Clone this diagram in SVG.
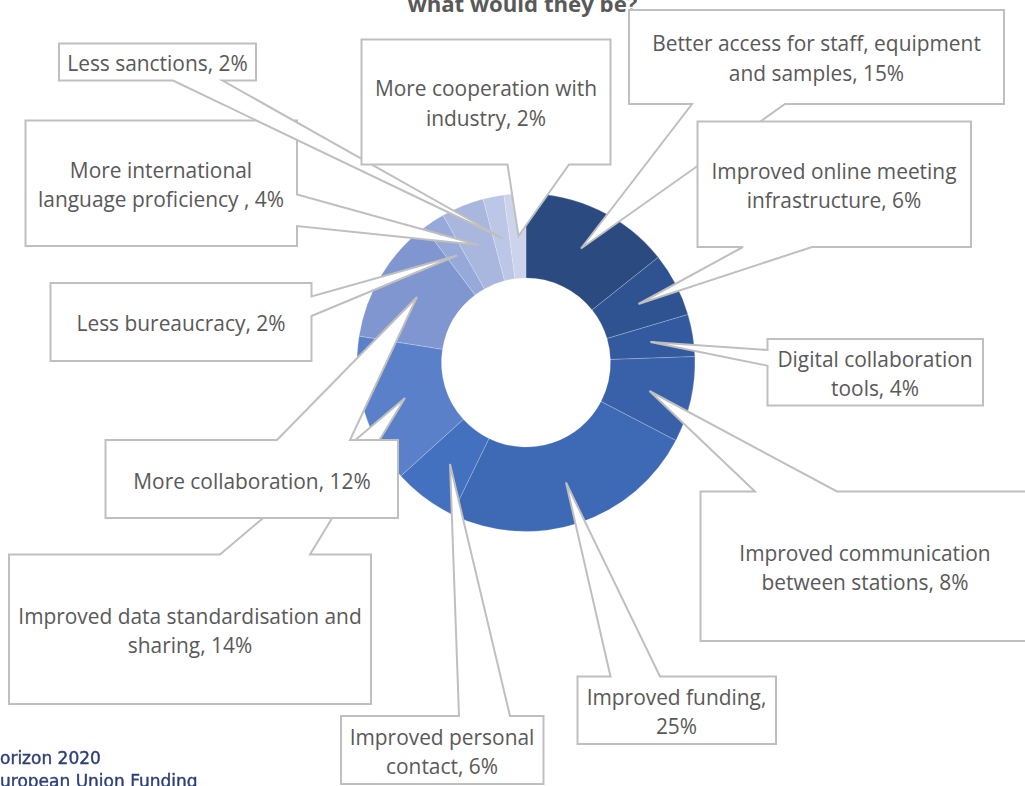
<svg xmlns="http://www.w3.org/2000/svg" width="1025" height="786" viewBox="0 0 1025 786">
<style>
.lbl{font-family:"Open Sans","Liberation Sans",sans-serif;font-size:20.9px;fill:#595959;text-anchor:middle;transform:translateY(.8px)}
.title{font-family:"Open Sans","Liberation Sans",sans-serif;font-size:22.2px;font-weight:700;fill:#595959;text-anchor:middle}
.co{fill:#fff;stroke:#bfbfbf;stroke-width:2;stroke-linejoin:miter}
.sl{stroke:#fff;stroke-opacity:.35;stroke-width:.6}
.logo{font-family:"DejaVu Sans",sans-serif;font-size:17px;fill:#2c3f78;stroke:#2c3f78;stroke-width:.4;filter:url(#soft)}
</style>
<defs><filter id="soft" x="-5%" y="-20%" width="110%" height="140%"><feGaussianBlur stdDeviation="0.45"/></filter></defs>
<rect width="1025" height="786" fill="#fff"/>
<text class="title" x="522.500" y="12">what would they be?</text>
<g id="ring">
<path class="sl" fill="#2a4a80" d="M526 193.500A169 169 0 0 1 658.300 257.300L592.100 309.900A84.500 84.500 0 0 0 526 278Z"/>
<path class="sl" fill="#2f5391" d="M658.300 257.300A169 169 0 0 1 688 314.500L607 338.500A84.500 84.500 0 0 0 592.100 309.900Z"/>
<path class="sl" fill="#335a9e" d="M688 314.500A169 169 0 0 1 694.900 356.600L610.400 359.500A84.500 84.500 0 0 0 607 338.500Z"/>
<path class="sl" fill="#3861a9" d="M694.900 356.600A169 169 0 0 1 675.900 440.500L601 401.500A84.500 84.500 0 0 0 610.400 359.500Z"/>
<path class="sl" fill="#3e69b5" d="M675.900 440.500A169 169 0 0 1 451.900 514.400L489 438.500A84.500 84.500 0 0 0 601 401.500Z"/>
<path class="sl" fill="#4470c0" d="M451.900 514.400A169 169 0 0 1 400.800 476L463.400 419.300A84.500 84.500 0 0 0 489 438.500Z"/>
<path class="sl" fill="#5a80ca" d="M400.800 476A169 169 0 0 1 359.100 336.100L442.500 349.300A84.500 84.500 0 0 0 463.400 419.300Z"/>
<path class="sl" fill="#7f96d0" d="M359.100 336.100A169 169 0 0 1 424.300 227.500L475.100 295A84.500 84.500 0 0 0 442.500 349.300Z"/>
<path class="sl" fill="#97a9d9" d="M424.300 227.500A169 169 0 0 1 443 215.300L484.500 288.900A84.500 84.500 0 0 0 475.100 295Z"/>
<path class="sl" fill="#a9b6dd" d="M443 215.300A169 169 0 0 1 483.100 199L504.600 280.800A84.500 84.500 0 0 0 484.500 288.900Z"/>
<path class="sl" fill="#bcc6e6" d="M483.100 199A169 169 0 0 1 503.900 195L515 278.700A84.500 84.500 0 0 0 504.600 280.800Z"/>
<path class="sl" fill="#cdd3ea" d="M503.900 195A169 169 0 0 1 526 193.500L526 278A84.500 84.500 0 0 0 515 278.700Z"/>
</g>
<g id="better-access"><path class="co" d="M629 10H1004V104H785L581 248.500L692 104H629Z"/>
<text class="lbl" x="816.500" y="50">Better access for staff, equipment</text><text class="lbl" x="816.500" y="80">and samples, 15%</text></g>
<g id="online-meeting"><path class="co" d="M697.500 121.500H971V247H812L638.500 304L743 247H697.500Z"/>
<text class="lbl" x="834" y="178">Improved online meeting</text><text class="lbl" x="834" y="207">infrastructure, 6%</text></g>
<g id="digital-tools"><path class="co" d="M767.500 339H983V405.500H767.500V365.700L650.500 342L767.500 350Z"/>
<text class="lbl" x="875" y="366">Digital collaboration</text><text class="lbl" x="875" y="395">tools, 4%</text></g>
<g id="communication"><path class="co" d="M700.500 491.500H755L649.500 391L837 491.500H1030V641H700.500Z"/>
<text class="lbl" x="865" y="560">Improved communication</text><text class="lbl" x="865" y="589">between stations, 8%</text></g>
<g id="funding"><path class="co" d="M577.500 676.500H610.500L566 482.500L660 676.500H776V744H577.500Z"/>
<text class="lbl" x="676.500" y="704">Improved funding,</text><text class="lbl" x="676.500" y="733">25%</text></g>
<g id="personal-contact"><path class="co" d="M341 716H459L450 464L510 716H543.500V784H341Z"/>
<text class="lbl" x="442" y="744">Improved personal</text><text class="lbl" x="442" y="773">contact, 6%</text></g>
<g id="data-sharing"><path class="co" d="M9 554.500H220L405 398L310 554.500H371V704H9Z"/>
<text class="lbl" x="190" y="623">Improved data standardisation and</text><text class="lbl" x="190" y="652">sharing, 14%</text></g>
<g id="more-collaboration"><path class="co" d="M105.500 440H277L417 297L350 440H398V518H105.500Z"/>
<text class="lbl" x="252" y="488">More collaboration, 12%</text></g>
<g id="less-bureaucracy"><path class="co" d="M50.500 283H311.500V296.500L457 255.500L311.500 316V361H50.500Z"/>
<text class="lbl" x="181" y="330">Less bureaucracy, 2%</text></g>
<g id="language"><path class="co" d="M25.500 120.500H297V194.500L479 245L297 226V246H25.500Z"/>
<text class="lbl" x="161" y="177">More international</text><text class="lbl" x="161" y="206">language proficiency , 4%</text></g>
<g id="less-sanctions"><path class="co" d="M59 43.500H256V80.500H222.500L503 238.500L173 80.500H59Z"/>
<text class="lbl" x="157.500" y="70">Less sanctions, 2%</text></g>
<g id="cooperation"><path class="co" d="M361.500 39.500H610.500V164.500H569L518.500 236L507.500 164.500H361.500Z"/>
<text class="lbl" x="486" y="95">More cooperation with</text><text class="lbl" x="486" y="125">industry, 2%</text></g>
<g id="funding-note"><text class="logo" x="0" y="764">orizon 2020</text><text class="logo" x="0" y="787">uropean Union Funding</text></g>
</svg>
